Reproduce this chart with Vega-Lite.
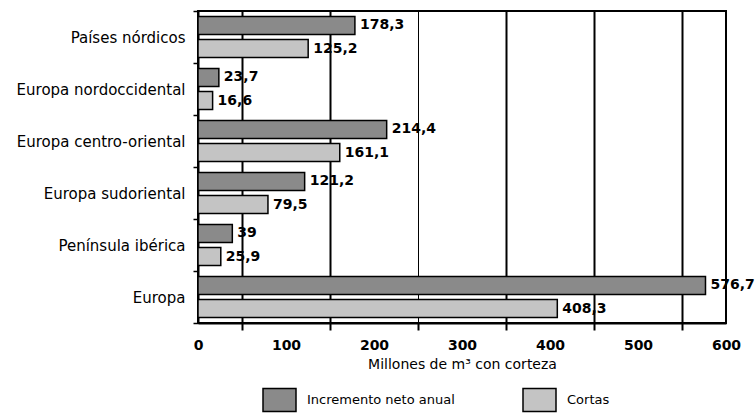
{
  "$schema": "https://vega.github.io/schema/vega-lite/v6.json",
  "width": 528,
  "height": 312,
  "autosize": "none",
  "padding": {"left": 198, "top": 11, "right": 29, "bottom": 92},
  "data": {
    "values": [
      {"region": "Países nórdicos", "serie": "Incremento neto anual", "valor": 178.3},
      {"region": "Países nórdicos", "serie": "Cortas", "valor": 125.2},
      {"region": "Europa nordoccidental", "serie": "Incremento neto anual", "valor": 23.7},
      {"region": "Europa nordoccidental", "serie": "Cortas", "valor": 16.6},
      {"region": "Europa centro-oriental", "serie": "Incremento neto anual", "valor": 214.4},
      {"region": "Europa centro-oriental", "serie": "Cortas", "valor": 161.1},
      {"region": "Europa sudoriental", "serie": "Incremento neto anual", "valor": 121.2},
      {"region": "Europa sudoriental", "serie": "Cortas", "valor": 79.5},
      {"region": "Península ibérica", "serie": "Incremento neto anual", "valor": 39},
      {"region": "Península ibérica", "serie": "Cortas", "valor": 25.9},
      {"region": "Europa", "serie": "Incremento neto anual", "valor": 576.7},
      {"region": "Europa", "serie": "Cortas", "valor": 408.3}
    ]
  },
  "encoding": {
    "y": {
      "field": "region",
      "type": "nominal",
      "sort": null,
      "scale": {"paddingInner": 0, "paddingOuter": 0},
      "axis": {
        "title": null,
        "tickBand": "extent",
        "tickSize": 5,
        "tickColor": "black",
        "tickWidth": 1.5,
        "labelPadding": 8,
        "labelFont": "DejaVu Sans",
        "labelFontSize": 15,
        "labelColor": "black",
        "domainColor": "black",
        "domainWidth": 2,
        "grid": false
      }
    },
    "x": {
      "field": "valor",
      "type": "quantitative",
      "scale": {"domain": [0, 600], "nice": false},
      "axis": {
        "values": [0, 50, 100, 150, 200, 250, 300, 350, 400, 450, 500, 550, 600],
        "labelExpr": "datum.value % 100 === 0 ? format(datum.value, 'd') : ''",
        "labelOverlap": false,
        "labelFlush": false,
        "labelFont": "DejaVu Sans",
        "labelFontSize": 14,
        "labelFontWeight": "bold",
        "labelColor": "black",
        "labelPadding": 8,
        "tickSize": 7,
        "tickColor": "black",
        "tickWidth": 2,
        "tickOpacity": {"condition": {"test": "datum.value % 100 === 50", "value": 1}, "value": 0},
        "grid": true,
        "gridColor": "black",
        "gridOpacity": {"condition": {"test": "datum.value % 100 === 50", "value": 1}, "value": 0},
        "gridWidth": {"condition": {"test": "datum.value === 250", "value": 1}, "value": 2},
        "domainColor": "black",
        "domainWidth": 2,
        "title": "Millones de m³ con corteza",
        "titleFont": "DejaVu Sans",
        "titleFontSize": 14,
        "titleFontWeight": "normal",
        "titleColor": "black",
        "titlePadding": 5
      }
    },
    "yOffset": {
      "field": "serie",
      "type": "nominal",
      "sort": ["Incremento neto anual", "Cortas"],
      "scale": {"paddingInner": 0.22, "paddingOuter": 0.24}
    }
  },
  "layer": [
    {
      "mark": {"type": "bar", "stroke": "black", "strokeWidth": 1.5},
      "encoding": {
        "fill": {
          "field": "serie",
          "type": "nominal",
          "scale": {"domain": ["Incremento neto anual", "Cortas"], "range": ["#8a8a8a", "#c4c4c4"]},
          "legend": {
            "orient": "none",
            "legendX": 64,
            "legendY": 371,
            "direction": "horizontal",
            "title": null,
            "symbolType": "M-1,-0.7H1V0.7H-1Z",
            "symbolSize": 1089,
            "symbolStrokeColor": "black",
            "symbolStrokeWidth": 1.5,
            "labelFont": "DejaVu Sans",
            "labelFontSize": 13,
            "labelColor": "black",
            "labelOffset": 10,
            "columnPadding": 65,
            "padding": 0
          }
        }
      }
    },
    {
      "mark": {"type": "text", "align": "left", "baseline": "middle", "dx": 5, "font": "DejaVu Sans", "fontWeight": "bold", "fontSize": 14, "color": "black"},
      "encoding": {
        "text": {"field": "valor", "type": "quantitative", "format": ".1~f"}
      }
    }
  ],
  "config": {
    "locale": {"number": {"decimal": ",", "thousands": ".", "grouping": [3], "currency": ["", " €"]}},
    "view": {"stroke": "black", "strokeWidth": 2},
    "background": "white"
  }
}
